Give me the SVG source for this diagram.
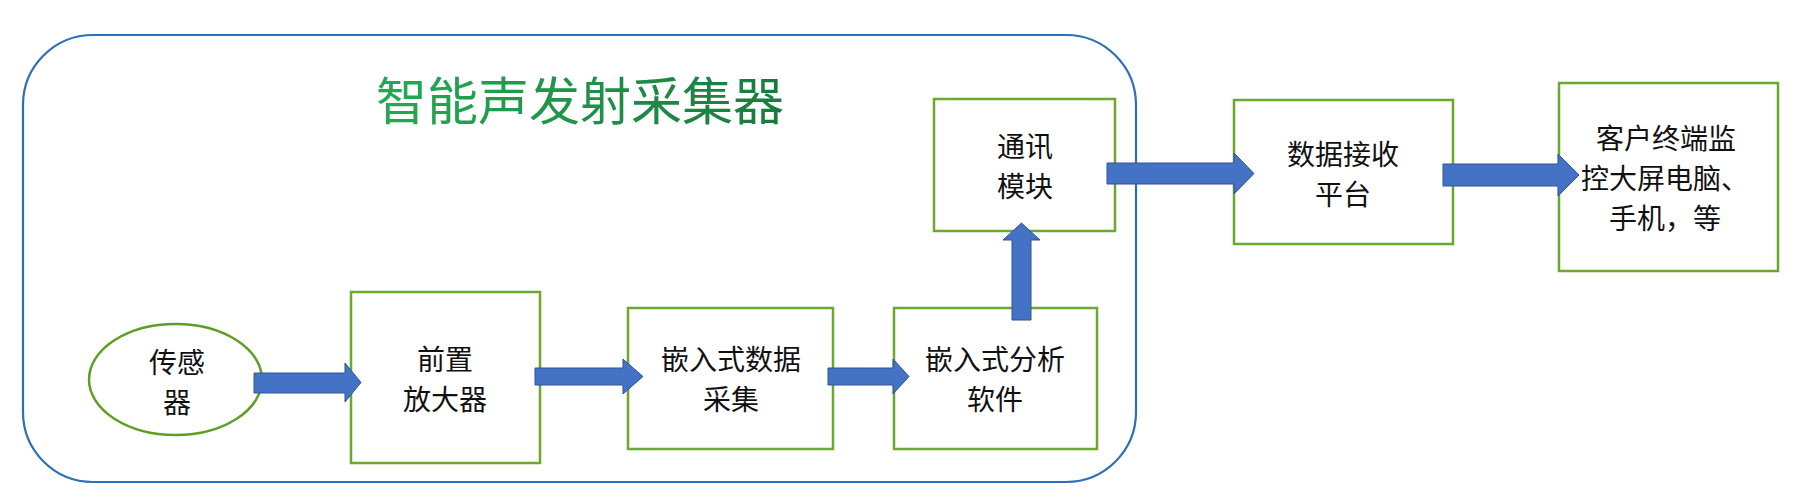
<svg xmlns="http://www.w3.org/2000/svg" width="1800" height="504" viewBox="0 0 1800 504">
<defs>
<linearGradient id="tg" x1="0" y1="0" x2="1" y2="0">
<stop offset="0" stop-color="#22ab52"/>
<stop offset="1" stop-color="#1a7a3e"/>
</linearGradient>
</defs>
<style>
.box{fill:#ffffff;stroke:#6aa82e;stroke-width:2.5}
.lbl{font-family:"Noto Sans CJK SC","Noto Sans",sans-serif;font-size:28px;fill:#111;text-anchor:middle;dominant-baseline:central}
.arr{fill:#4472c4;stroke:#2f5597;stroke-width:1}
</style>
<rect width="1800" height="504" fill="#ffffff"/>
<g id="container">
<rect x="23" y="35" width="1113" height="447" rx="70" ry="70" fill="none" stroke="#2e6fba" stroke-width="2.2"/>
<text x="580" y="98" font-family="'Noto Sans CJK SC','Noto Sans',sans-serif" font-size="51" fill="url(#tg)" text-anchor="middle" dominant-baseline="central">智能声发射采集器</text>
</g>
<g id="sensor">
<ellipse cx="175.5" cy="379.5" rx="86.5" ry="55.5" fill="#ffffff" stroke="#5f9e22" stroke-width="2.5"/>
<text class="lbl" x="177" y="361">传感</text>
<text class="lbl" x="177" y="401">器</text>
</g>
<g id="preamp">
<rect class="box" x="351" y="292" width="189" height="171"/>
<text class="lbl" x="445" y="358">前置</text>
<text class="lbl" x="445" y="398">放大器</text>
</g>
<g id="daq">
<rect class="box" x="628" y="308" width="205" height="141"/>
<text class="lbl" x="731" y="358">嵌入式数据</text>
<text class="lbl" x="731" y="398">采集</text>
</g>
<g id="software">
<rect class="box" x="894" y="308" width="203" height="141"/>
<text class="lbl" x="995" y="358">嵌入式分析</text>
<text class="lbl" x="995" y="398">软件</text>
</g>
<g id="comm">
<rect class="box" x="934" y="99" width="181" height="132"/>
<text class="lbl" x="1025" y="145">通讯</text>
<text class="lbl" x="1025" y="185">模块</text>
</g>
<g id="platform">
<rect class="box" x="1234" y="100" width="219" height="144"/>
<text class="lbl" x="1343" y="153">数据接收</text>
<text class="lbl" x="1343" y="193">平台</text>
</g>
<g id="client">
<rect class="box" x="1559" y="83" width="219" height="188"/>
<text class="lbl" x="1666" y="137">客户终端监</text>
<text class="lbl" x="1665" y="177">控大屏电脑、</text>
<text class="lbl" x="1665" y="217">手机，等</text>
</g>
<g id="connectors">
<polygon class="arr" points="254,373 345,373 345,363 361,382.5 345,402 345,393 254,393"/>
<polygon class="arr" points="535,368 623,368 623,359 643,376.5 623,394 623,385 535,385"/>
<polygon class="arr" points="828,368 893,368 893,359 909,376.5 893,394 893,385 828,385"/>
<polygon class="arr" points="1012,320 1012,240 1003,240 1021.5,223 1040,240 1031,240 1031,320"/>
<polygon class="arr" points="1107,163 1234,163 1234,153 1254,173.5 1234,194 1234,184 1107,184"/>
<polygon class="arr" points="1443,164 1558,164 1558,154 1579,175 1558,196 1558,186 1443,186"/>
</g>
</svg>
